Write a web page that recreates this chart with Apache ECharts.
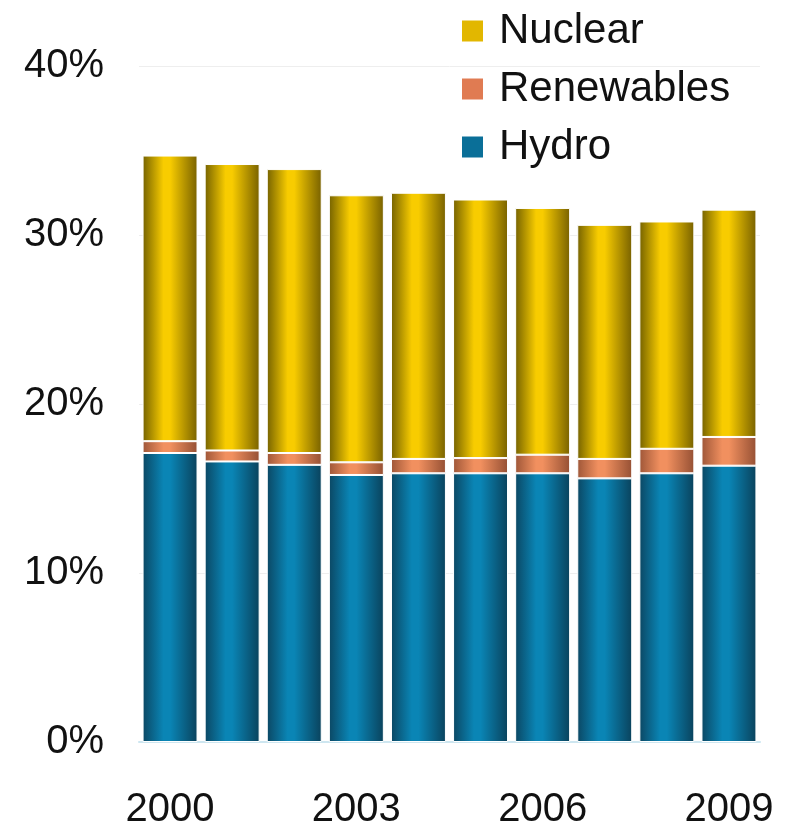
<!DOCTYPE html>
<html>
<head>
<meta charset="utf-8">
<script src="https://cdn.jsdelivr.net/npm/echarts@6/dist/echarts.min.js"></script>
<style>
html,body{margin:0;padding:0;background:#fff;}
#chart{width:785px;height:828px;}
</style>
</head>
<body>
<div id="chart"></div>
<script>
const years = ['2000','2001','2002','2003','2004','2005','2006','2007','2008','2009'];
const hydro = [17.1, 16.6, 16.4, 15.8, 15.9, 15.9, 15.9, 15.6, 15.9, 16.35];
const renewables = [0.7, 0.65, 0.7, 0.75, 0.85, 0.9, 1.1, 1.15, 1.45, 1.7];
const nuclear = [16.9, 16.95, 16.8, 15.8, 15.75, 15.3, 14.6, 13.85, 13.45, 13.45];
const yTicks = [0, 10, 20, 30, 40];

function cyl(edgeL, mid, edgeR) {
  return {
    type: 'linear', x: 0, y: 0, x2: 1, y2: 0,
    colorStops: [
      {offset: 0, color: edgeL},
      {offset: 0.38, color: mid},
      {offset: 0.5, color: mid},
      {offset: 1, color: edgeR}
    ]
  };
}

const font = '"Liberation Sans", Arial, sans-serif';
const chart = echarts.init(document.getElementById('chart'));
chart.setOption({
  animation: false,
  backgroundColor: '#ffffff',
  legend: {
    orient: 'vertical',
    left: 455,
    top: 5,
    itemWidth: 23,
    itemHeight: 23,
    itemGap: 16,
    icon: 'rect',
    textStyle: {fontFamily: font, fontSize: 42, color: '#111111', lineHeight: 42, padding: [0, 0, 0, 10]},
    data: [
      {name: 'Nuclear', itemStyle: {color: '#e2b700'}},
      {name: 'Renewables', itemStyle: {color: '#e07b52'}},
      {name: 'Hydro', itemStyle: {color: '#0a6f98'}}
    ]
  },
  grid: {left: 139, right: 25, top: 66, bottom: 86, containLabel: false, outerBoundsMode: 'none'},
  xAxis: {
    type: 'category',
    data: years,
    axisTick: {show: false},
    axisLine: {show: true, lineStyle: {color: '#cde6f0', width: 2}},
    axisLabel: {interval: 2, fontFamily: font, fontSize: 40, color: '#111111', margin: 48}
  },
  yAxis: {
    type: 'value',
    min: yTicks[0],
    max: yTicks[yTicks.length - 1],
    interval: 10,
    axisLine: {show: false},
    axisTick: {show: false},
    splitLine: {show: true, lineStyle: {color: '#eeeeee', width: 1}},
    axisLabel: {fontFamily: font, fontSize: 40, color: '#111111', margin: 35, formatter: v => v + '%'}
  },
  series: [
    {
      name: 'Hydro', type: 'bar', stack: 's', data: hydro,
      barCategoryGap: '11.5%',
      itemStyle: {color: cyl('#0b4763', '#0a85b5', '#0a425c'), borderColor: '#ffffff', borderWidth: 1}
    },
    {
      name: 'Renewables', type: 'bar', stack: 's', data: renewables,
      itemStyle: {color: cyl('#9e5638', '#f1905f', '#955034'), borderColor: '#ffffff', borderWidth: 1}
    },
    {
      name: 'Nuclear', type: 'bar', stack: 's', data: nuclear,
      itemStyle: {color: cyl('#756200', '#f8cc00', '#786100'), borderColor: '#ffffff', borderWidth: 1}
    }
  ]
});
</script>
</body>
</html>
